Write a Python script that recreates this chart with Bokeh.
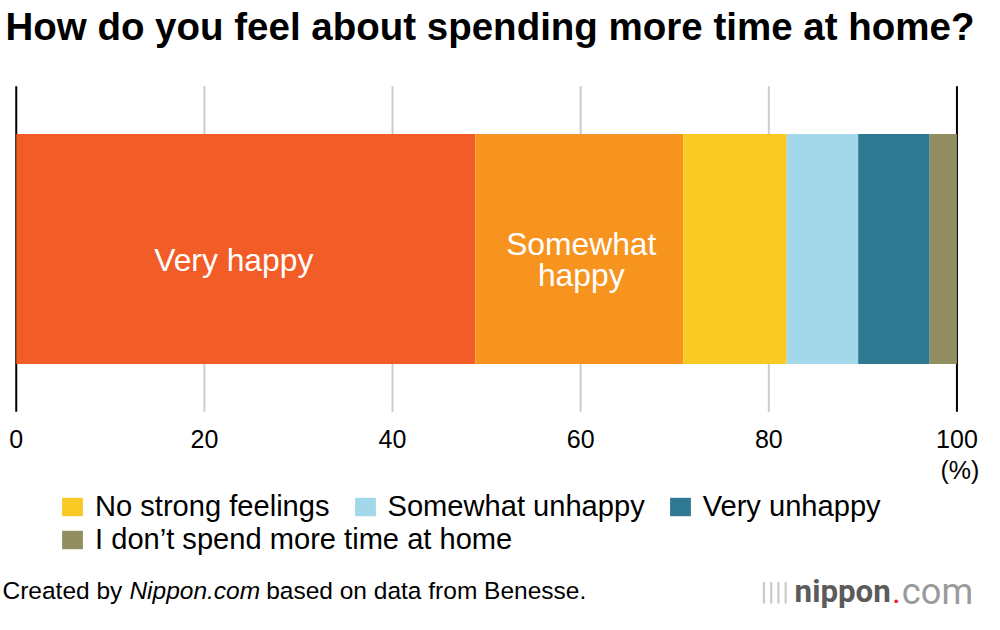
from bokeh.plotting import figure
from bokeh.models import Label, Legend, LegendItem, ColumnDataSource
from bokeh.core.properties import value
from bokeh.embed import file_html
from bokeh.resources import INLINE

# ---- data ----
categories = ["Very happy", "Somewhat happy", "No strong feelings",
              "Somewhat unhappy", "Very unhappy", "I don\u2019t spend more time at home"]
values = [48.8, 22.1, 11.0, 7.6, 7.6, 2.9]
colors = ["#F25C27", "#F7941F", "#F9C924", "#A2D8E9", "#2F7891", "#918E62"]
tick_values = [0, 20, 40, 60, 80, 100]
grid_values = [20, 40, 60, 80]
edge_values = [0, 100]
title_text = "How do you feel about spending more time at home?"
unit_text = "(%)"

FONT = "Liberation Sans"

# ---- layout (designed on a 1000x630 grid, scaled to fit the window) ----
W, H = 984, 614
SX, SY = W / 1000.0, H / 630.0
FS = (SX + SY) / 2


def sx(v):
    return v * SX


def sy(v):
    return v * SY


def fs(v):
    return "%.1fpx" % (v * FS)


X0_PX, X100_PX = sx(16), sx(972)
PX = (X100_PX - X0_PX) / 100.0
GRID_TOP, GRID_BOTTOM = sy(88), sy(422)
BAR_CENTER, BAR_HEIGHT = sy(255), sy(236)

p = figure(width=W, height=H, output_backend="svg", toolbar_location=None,
           x_range=(-X0_PX / PX, (W - X0_PX) / PX), y_range=(H, 0),
           x_axis_location=None, y_axis_location=None, title=None,
           min_border=0, min_border_left=0, min_border_right=0,
           min_border_top=0, min_border_bottom=0)
p.outline_line_color = None
p.background_fill_color = "white"
p.border_fill_color = "white"
p.grid.visible = False

# grid lines
p.segment(x0=grid_values, x1=grid_values, y0=GRID_TOP, y1=GRID_BOTTOM,
          line_color="#cccccc", line_width=2)
p.segment(x0=edge_values, x1=edge_values, y0=GRID_TOP, y1=GRID_BOTTOM,
          line_color="black", line_width=2)

# stacked bar
renderers = []
lefts, rights = [], []
acc = 0.0
for cat, v, c in zip(categories, values, colors):
    r = p.hbar(y=BAR_CENTER, left=acc, right=acc + v, height=BAR_HEIGHT,
               fill_color=c, line_color=None)
    renderers.append(r)
    lefts.append(acc)
    rights.append(acc + v)
    acc += v

# in-bar labels
mid0 = (lefts[0] + rights[0]) / 2
mid1 = (lefts[1] + rights[1]) / 2
lab = dict(text_color="white", text_font=FONT, text_font_size=fs(32.5),
           text_align="center", text_baseline="middle")
p.add_layout(Label(x=mid0, y=sy(266), text=categories[0], x_offset=-12, **lab))
p.add_layout(Label(x=mid1, y=sy(250), text="Somewhat", x_offset=2, **lab))
p.add_layout(Label(x=mid1, y=sy(282), text="happy", x_offset=2, **lab))

# tick labels
tick_src = ColumnDataSource(dict(x=tick_values, y=[sy(450)] * len(tick_values),
                                 t=[str(t) for t in tick_values]))
p.text(x="x", y="y", text="t", source=tick_src, text_font=value(FONT),
       text_font_size=fs(25.5), text_align="center", text_baseline="middle",
       text_color="black")
p.add_layout(Label(x=tick_values[-1], y=sy(482), text=unit_text, x_offset=3, text_font=FONT,
                   text_font_size=fs(25.5), text_align="center", text_baseline="middle",
                   text_color="black"))

# title
p.add_layout(Label(x=sx(5), y=sy(27), x_units="screen", text=title_text,
                   text_font=FONT, text_font_style="bold", text_font_size=fs(39.3),
                   text_baseline="middle", text_color="black"))

# legends (location in screen px from bottom-left)
leg_common = dict(orientation="horizontal", glyph_width=int(round(sx(26))),
                  glyph_height=int(round(sy(24))),
                  label_text_font=FONT, label_text_font_size=fs(29.7),
                  label_text_color="black", label_standoff=int(round(sx(10))),
                  label_height=int(round(sy(24))), spacing=int(round(sx(22))),
                  padding=0, margin=0, border_line_color=None, background_fill_alpha=0,
                  label_text_baseline="middle")
leg1 = Legend(items=[LegendItem(label=categories[i], renderers=[renderers[i]]) for i in (2, 3, 4)],
              location=(sx(60), H - sy(537)), **leg_common)
leg2 = Legend(items=[LegendItem(label=categories[5], renderers=[renderers[5]])],
              location=(sx(60), H - sy(570)), **leg_common)
p.add_layout(leg1, "center")
p.add_layout(leg2, "center")

# footer
fy = sy(605)
foot = dict(x_units="screen", text_font=FONT, text_font_size=fs(25),
            text_baseline="middle", text_color="black")
p.add_layout(Label(x=sx(2), y=fy, text="Created by", **foot))
p.add_layout(Label(x=sx(131), y=fy, text="Nippon.com", text_font_style="italic", **foot))
p.add_layout(Label(x=sx(270), y=fy, text="based on data from Benesse.", **foot))

# logo
ly = sy(606)
logo = dict(x_units="screen", text_baseline="alphabetic")
p.add_layout(Label(x=sx(772), y=ly - 1, text="||||", text_font="DejaVu Sans",
                   text_font_size=fs(22), text_color="#c4c4c4", **logo))
p.add_layout(Label(x=sx(807), y=ly, text="nippon", text_font="Roboto", text_font_style="bold",
                   text_font_size=fs(32), text_color="#5b5b5b", **logo))
p.add_layout(Label(x=sx(906), y=ly, text=".", text_font="Roboto", text_font_size=fs(34),
                   text_color="#e8262b", **logo))
p.add_layout(Label(x=sx(916), y=ly, text="com", text_font="Roboto", text_font_size=fs(37),
                   text_color="#9a9a9a", **logo))

open("out.html", "w").write(file_html(p, INLINE))
